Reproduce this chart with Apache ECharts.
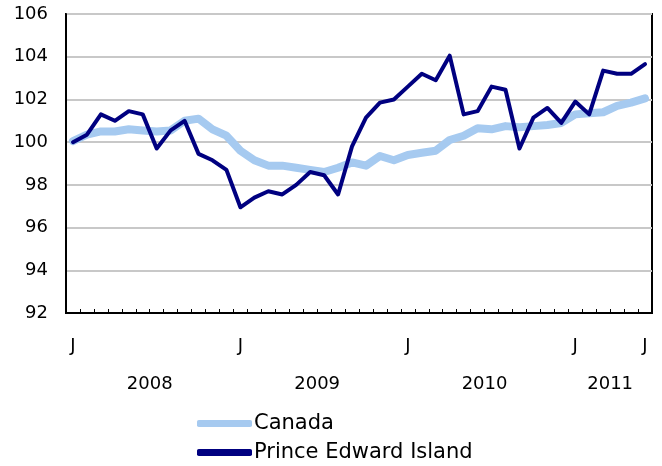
<!DOCTYPE html>
<html>
<head>
<meta charset="utf-8">
<script src="https://cdn.jsdelivr.net/npm/echarts@6/dist/echarts.min.js"></script>
<style>html,body{margin:0;padding:0;background:#fff}#c{width:662px;height:466px}</style>
</head>
<body>
<div id="c"></div>
<script>
var months = [];
(function(){var ys=[2008,2009,2010,2011];for(var y=0;y<ys.length;y++){for(var m=1;m<=12;m++){if(ys[y]===2011&&m>6)break;months.push(ys[y]+'-'+(m<10?'0'+m:m));}}})();
var monthLetters = ['J','F','M','A','M','J','J','A','S','O','N','D'];
var labelledIdx = [0, 12, 24, 36, 41];
var yearLabels = ['2008', '2009', '2010', '2011'];
var yearCenters = [5.5, 17.5, 29.5, 38.5];
var canada = [100.05, 100.35, 100.5, 100.5, 100.6, 100.55, 100.5, 100.55, 101.0, 101.1, 100.6, 100.3,
  99.6, 99.15, 98.9, 98.9, 98.8, 98.7, 98.6, 98.8, 99.05, 98.9, 99.35, 99.15,
  99.4, 99.5, 99.6, 100.1, 100.3, 100.65, 100.6, 100.75, 100.7, 100.75, 100.8, 100.9,
  101.3, 101.35, 101.4, 101.7, 101.85, 102.05];
var pei = [100.0, 100.35, 101.3, 101.0, 101.45, 101.3, 99.7, 100.55, 101.0, 99.45, 99.15, 98.7,
  96.95, 97.4, 97.7, 97.55, 98.0, 98.6, 98.45, 97.55, 99.8, 101.15, 101.85, 102.0,
  102.6, 103.2, 102.9, 104.05, 101.3, 101.45, 102.6, 102.45, 99.7, 101.15, 101.6, 100.9,
  101.9, 101.3, 103.35, 103.2, 103.2, 103.65];
var yTicks = {min: 92, max: 106, interval: 2};

var FONT = 'DejaVu Sans';
var chart = echarts.init(document.getElementById('c'), null, {renderer: 'canvas'});
chart.setOption({
  animation: false,
  backgroundColor: '#fff',
  textStyle: {fontFamily: FONT},
  grid: {left: 66, right: 10, top: 14, bottom: 153, show: true, borderColor: '#000', borderWidth: 2, backgroundColor: 'transparent'},
  legend: {
    orient: 'vertical', left: 197, top: 413, padding: 0, itemWidth: 55, itemHeight: 7, itemGap: 8,
    icon: 'roundRect',
    textStyle: {fontFamily: FONT, fontSize: 21, color: '#000', padding: [0,0,0,-3]},
    data: ['Canada', 'Prince Edward Island']
  },
  xAxis: [{
    type: 'category', data: months, boundaryGap: true,
    axisLine: {show: true, lineStyle: {color: '#000', width: 2}},
    axisTick: {show: true, inside: true, length: 4, interval: 0, lineStyle: {color: '#000', width: 1}},
    axisLabel: {
      interval: function(i){ return labelledIdx.indexOf(i) >= 0; },
      formatter: function(v, i){ return monthLetters[parseInt(v.slice(5),10)-1]; },
      margin: 24, fontFamily: FONT, fontSize: 18, color: '#000'
    },
    splitLine: {show: false}
  }, {
    type: 'value', position: 'bottom', min: -0.5, max: 41.5, interval: 0.5,
    axisLine: {show: false}, axisTick: {show: false}, splitLine: {show: false},
    axisLabel: {
      margin: 62, fontFamily: FONT, fontSize: 18, color: '#000', showMinLabel: true, showMaxLabel: true,
      formatter: function(v){ var k = yearCenters.indexOf(v); return k >= 0 ? yearLabels[k] : ''; }
    }
  }],
  yAxis: {
    type: 'value', min: yTicks.min, max: yTicks.max, interval: yTicks.interval,
    axisLine: {show: true, onZero: false, lineStyle: {color: '#000', width: 2}},
    axisTick: {show: false},
    axisLabel: {margin: 18, fontFamily: FONT, fontSize: 18, color: '#000'},
    splitLine: {show: true, lineStyle: {color: '#c8c8c8', width: 2}}
  },
  series: [{
    name: 'Canada', type: 'line', data: canada, xAxisIndex: 0, symbol: 'none',
    lineStyle: {color: '#a6caf0', width: 8, cap: 'round', join: 'round'},
    itemStyle: {color: '#a6caf0'}, z: 2
  }, {
    name: 'Prince Edward Island', type: 'line', data: pei, xAxisIndex: 0, symbol: 'none',
    lineStyle: {color: '#000080', width: 4, cap: 'round', join: 'round'},
    itemStyle: {color: '#000080'}, z: 3
  }]
});
</script>
</body>
</html>
